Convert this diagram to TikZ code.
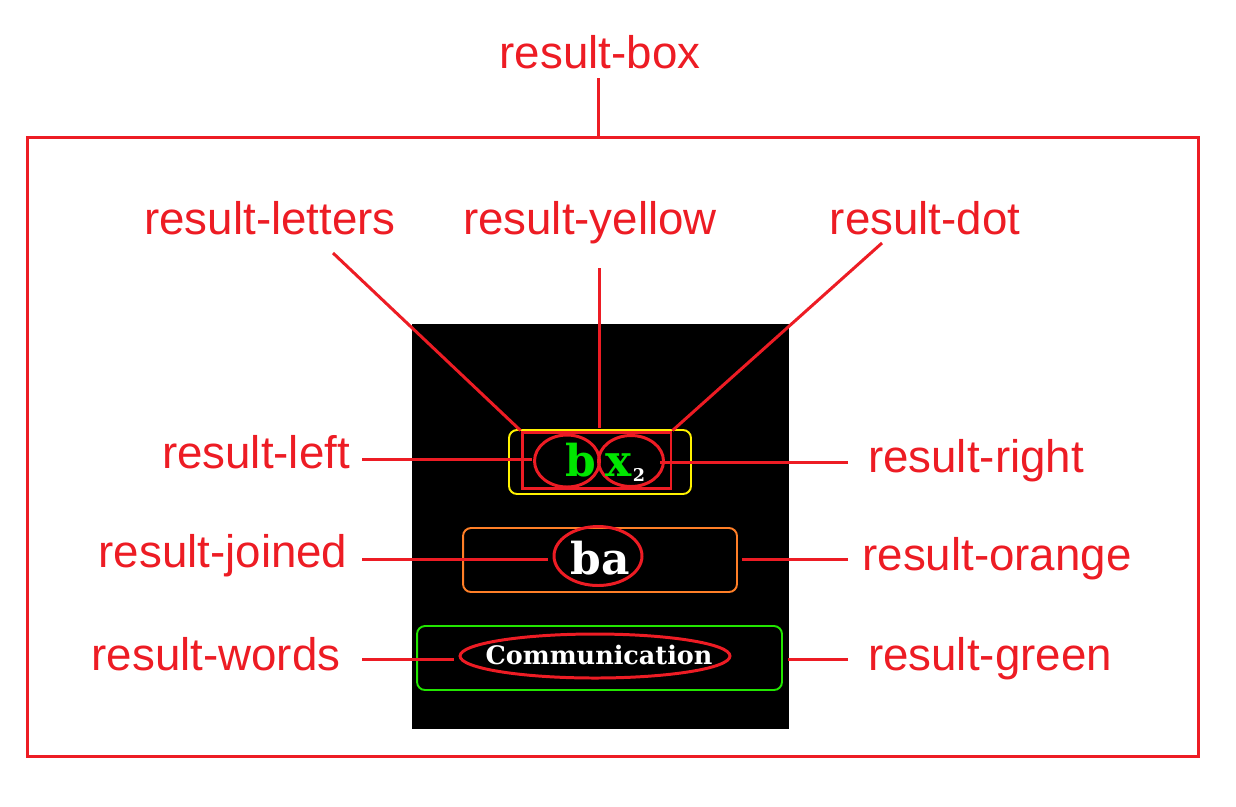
\documentclass[tikz,border=0pt]{standalone}
\usepackage{fontspec}
\setmainfont{Liberation Sans}
\newfontfamily\screenserif{DejaVu Serif}
\usetikzlibrary{shapes.geometric,positioning}
\definecolor{markred}{RGB}{237,28,36}
\definecolor{boxyellow}{RGB}{255,242,0}
\definecolor{boxorange}{RGB}{255,127,39}
\definecolor{boxgreen}{RGB}{34,230,0}
\definecolor{lettergreen}{RGB}{0,230,0}

\begin{document}
\begin{tikzpicture}[
  x=0.02cm, y=-0.02cm,
  partlabel/.style={text=markred, font=\fontsize{26}{31}\selectfont, inner sep=0pt, anchor=base},
  marker/.style={draw=markred, line width=1.7pt},
  outline/.style={draw=markred, line width=1.7pt, inner sep=0pt},
  ring/.style={ellipse, draw=markred, line width=1.7pt, inner sep=0pt},
  framebox/.style={rounded corners=0.16cm, line width=1.1pt, inner sep=0pt},
  glyph/.style={font=\screenserif\bfseries\fontsize{25}{28}\selectfont, inner sep=0pt, anchor=base}
]
\useasboundingbox (0,0) rectangle (1236,806);

% outer box and screen
\node[outline, minimum width=23.44cm, minimum height=12.4cm] (box) at (613,447) {};
\node[fill=black, inner sep=0pt, minimum width=7.54cm, minimum height=8.1cm] (screen) at (600.5,526.5) {};

% top row: letters
\node[framebox, draw=boxyellow, minimum width=3.64cm, minimum height=1.28cm] (yellow) at (600,462) {};
\node[outline, minimum width=2.98cm, minimum height=1.12cm] (letters) at (596.5,460) {};
\node[ring, minimum width=1.3cm, minimum height=1.04cm] (left) at (567,461) {};
\node[ring, minimum width=1.3cm, minimum height=1.02cm] (right) at (631,461) {};
\node[glyph, text=lettergreen] (b) at (581,476) {b};
\node[glyph, text=lettergreen] (x) at (619,476) {x};
\node[anchor=base, inner sep=0pt, text=white, font=\screenserif\bfseries\fontsize{10}{12}\selectfont] (dot) at (639,481) {2};

% middle row: joined
\node[framebox, draw=boxorange, minimum width=5.48cm, minimum height=1.28cm] (orange) at (600,560) {};
\node[ring, minimum width=1.76cm, minimum height=1.18cm] (joined) at (598,556) {};
\node[glyph, text=white] (ba) at (600,574) {ba};

% bottom row: words
\node[framebox, draw=boxgreen, minimum width=7.3cm, minimum height=1.28cm] (green) at (599.5,658) {};
\node[ring, minimum width=5.4cm, minimum height=0.88cm] (words) at (595,656) {};
\node[glyph, text=white, font=\screenserif\bfseries\fontsize{14.5}{17}\selectfont] (comm) at (599,664) {Communication};

% labels
\node[partlabel] (lbox) at (600,68) {result-box};
\node[partlabel] (lletters) at (270,234) {result-letters};
\node[partlabel] (lyellow) at (590,234) {result-yellow};
\node[partlabel] (ldot) at (925,234) {result-dot};
\node[partlabel] (lleft) at (256,468) {result-left};
\node[partlabel] (lright) at (976,472) {result-right};
\node[partlabel] (ljoined) at (223,567) {result-joined};
\node[partlabel] (lorange) at (997,570) {result-orange};
\node[partlabel] (lwords) at (216,670) {result-words};
\node[partlabel] (lgreen) at (990,670) {result-green};

% connector ends near the labels
\coordinate (cbox) at (598,78);
\coordinate (cletters) at (333,253);
\coordinate (cyellow) at (599,268);
\coordinate (cdot) at (882,243);
\coordinate (cleft) at (362,459);
\coordinate (cright) at (848,462);
\coordinate (cjoined) at (362,559);
\coordinate (corange) at (848,559);
\coordinate (cwords) at (362,659);
\coordinate (cgreen) at (848,659);

% connectors
\draw[marker] (cbox) -- (cbox |- box.north);
\draw[marker] (cletters) -- (letters.north west);
\draw[marker] (cyellow) -- ([yshift=0.06cm]cyellow |- letters.north);
\draw[marker] (cdot) -- (letters.north east);
\draw[marker] (cleft) -- ([xshift=-0.02cm]cleft -| left.west);
\draw[marker] (cright) -- ([xshift=-0.1cm]cright -| right.east);
\draw[marker] (cjoined) -- ([xshift=-0.1cm]cjoined -| joined.west);
\draw[marker] (corange) -- ([xshift=0.08cm]corange -| orange.east);
\draw[marker] (cwords) -- ([xshift=-0.1cm]cwords -| words.west);
\draw[marker] (cgreen) -- ([xshift=0.1cm]cgreen -| green.east);
\end{tikzpicture}
\end{document}
